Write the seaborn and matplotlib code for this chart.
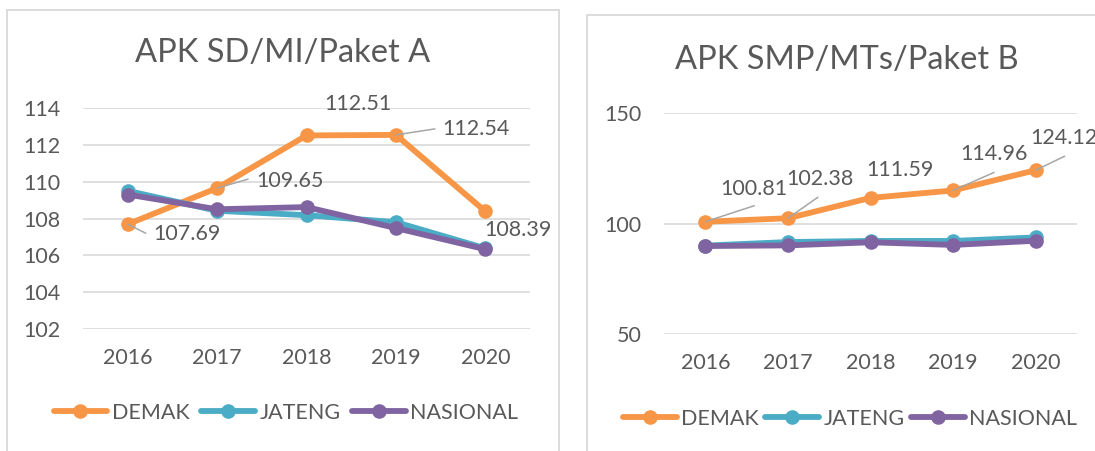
import matplotlib
matplotlib.use("Agg")
import matplotlib.pyplot as plt
from matplotlib.lines import Line2D
from matplotlib.patches import Rectangle
import seaborn as sns
import pandas as pd

# ---------------- data ----------------
years = [2016, 2017, 2018, 2019, 2020]
series_names = ["DEMAK", "JATENG", "NASIONAL"]

sd_demak = [107.69, 109.65, 112.51, 112.54, 108.39]
sd_jateng = [109.50, 108.42, 108.18, 107.80, 106.38]
sd_nasional = [109.30, 108.50, 108.62, 107.48, 106.33]

smp_demak = [100.81, 102.38, 111.59, 114.96, 124.12]
smp_jateng = [90.0, 91.6, 92.1, 92.1, 93.7]
smp_nasional = [89.8, 90.1, 91.5, 90.3, 92.2]

title_sd = "APK SD/MI/Paket A"
title_smp = "APK SMP/MTs/Paket B"

sd_yticks = [102, 104, 106, 108, 110, 112, 114]
smp_yticks = [50, 100, 150]

# ---------------- style ----------------
sns.set_theme(style="white")
plt.rcParams["font.family"] = ["Lato", "DejaVu Sans"]
TXT = "#595959"
GRID = "#D9D9D9"
LEAD = "#A6A6A6"
palette = {"DEMAK": "#F79646", "JATENG": "#4BACC6", "NASIONAL": "#8064A2"}
FS = 15.5
LW = 4.2
MS = 10.5

W, H = 1095, 451
fig = plt.figure(figsize=(W / 100, H / 100), dpi=100)
fig.patch.set_facecolor("white")


def px_axes(x0, y0, x1, y1):
    return fig.add_axes([x0 / W, 1 - y1 / H, (x1 - x0) / W, (y1 - y0) / H])


# panel frames
fig.add_artist(Rectangle((7 / W, -0.05), (559 - 7) / W, 1.05 - 10 / H,
                         transform=fig.transFigure, fill=False, ec=GRID, lw=1.3))
fig.add_artist(Rectangle((587 / W, -0.05), 0.6, 1.05 - 15 / H,
                         transform=fig.transFigure, fill=False, ec=GRID, lw=1.3))


def make_df(d, j, n):
    rows = []
    for name, vals in zip(series_names, [d, j, n]):
        for y, v in zip(years, vals):
            rows.append({"year": y, "value": v, "series": name})
    return pd.DataFrame(rows)


def draw_panel(ax, df, yticks, ylim, title, title_xy, labels, label_off, leaders):
    sns.lineplot(data=df, x="year", y="value", hue="series", hue_order=series_names,
                 palette=palette, marker="o", markersize=MS, linewidth=LW,
                 markeredgewidth=0, legend=False, ax=ax, sort=False)
    ax.set_xlim(years[0] - 0.5, years[-1] + 0.5)
    ax.set_ylim(*ylim)
    ax.set_yticks(yticks)
    ax.set_xticks(years)
    ax.set_xticklabels([str(y) for y in years])
    ax.set_xlabel("")
    ax.set_ylabel("")
    for s in ax.spines.values():
        s.set_visible(False)
    ax.grid(axis="y", color=GRID, lw=1.2)
    ax.grid(axis="x", visible=False)
    ax.set_axisbelow(True)
    ax.tick_params(axis="both", length=0, labelsize=FS, labelcolor=TXT)
    ax.tick_params(axis="y", pad=16)
    ax.tick_params(axis="x", pad=14)
    ax.patch.set_alpha(0)
    fig.text(title_xy[0] / W, 1 - title_xy[1] / H, title, ha="center", va="center",
             fontsize=23.5, color=TXT)
    for y, v, (dx, dy), ld in zip(years, labels, label_off, leaders):
        if ld is not None:
            ax.annotate("", xy=(y, v), xytext=(ld[0], -ld[1]), textcoords="offset pixels",
                        arrowprops=dict(arrowstyle="-", color=LEAD, lw=1.1,
                                        shrinkA=0, shrinkB=0), zorder=5)
        ax.annotate(f"{v:.2f}", xy=(y, v), xytext=(dx, -dy), textcoords="offset pixels",
                    ha="center", va="center", fontsize=FS, color=TXT, zorder=6,
                    annotation_clip=False)


ax1 = px_axes(83, 108, 530, 329)
draw_panel(ax1, make_df(sd_demak, sd_jateng, sd_nasional), sd_yticks, (102, 114),
           title_sd, (283, 53), sd_demak,
           [(59, 10), (73, -7), (51, -31), (80, -6), (33, 19)],
           [(18, 9), (31, -9), None, (39, -6), None])

ax2 = px_axes(664, 113, 1077, 334)
draw_panel(ax2, make_df(smp_demak, smp_jateng, smp_nasional), smp_yticks, (50, 150),
           title_smp, (847, 60), smp_demak,
           [(49, -33), (32, -39), (29, -28), (41, -36), (28, -32)],
           [(49, -16), (30, -21), None, (41, -18), (29, -14)])

handles = [Line2D([], [], color=palette[n], lw=LW, marker="o", markersize=MS,
                  markeredgewidth=0) for n in series_names]
for cx, cy, cs in [(286, 413, 0.55), (850, 419, 0.3)]:
    fig.legend(handles, series_names, loc="center", bbox_to_anchor=(cx / W, 1 - cy / H),
               ncol=3, frameon=False, fontsize=FS, labelcolor=TXT, handlelength=2.5,
               handletextpad=0.2, columnspacing=cs, borderpad=0, borderaxespad=0)

fig.savefig("out.png", dpi=100, facecolor="white")
